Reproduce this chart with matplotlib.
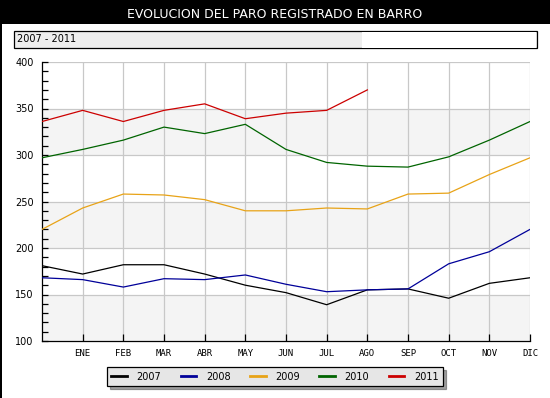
import matplotlib
matplotlib.use("Agg")
import matplotlib.pyplot as plt
from matplotlib.patches import Rectangle
from matplotlib.lines import Line2D

months = ["ENE", "FEB", "MAR", "ABR", "MAY", "JUN", "JUL", "AGO", "SEP", "OCT", "NOV", "DIC"]
years = ["2007", "2008", "2009", "2010", "2011"]

# first value is the left edge point (before ENE)
paro_2007 = [181, 172, 182, 182, 172, 160, 152, 139, 155, 156, 146, 162, 168]
paro_2008 = [168, 166, 158, 167, 166, 171, 161, 153, 155, 156, 183, 196, 220]
paro_2009 = [220, 243, 258, 257, 252, 240, 240, 243, 242, 258, 259, 279, 297]
paro_2010 = [297, 306, 316, 330, 323, 333, 306, 292, 288, 287, 298, 316, 336]
paro_2011 = [336, 348, 336, 348, 355, 339, 345, 348, 370]

series = [paro_2007, paro_2008, paro_2009, paro_2010, paro_2011]
colors = ["#000000", "#000099", "#e8a317", "#006400", "#cc0000"]

W, H = 550, 398
fig = plt.figure(figsize=(W / 100, H / 100), dpi=100)
fig.patch.set_facecolor("white")

def px(x, y, w, h):
    return [x / W, 1 - (y + h) / H, w / W, h / H]

# title bar
fig.patches.append(Rectangle((0, 1 - 24 / H), 1, 24 / H, transform=fig.transFigure,
                             facecolor="black", edgecolor="none"))
fig.text(275 / W, 1 - 14 / H, "EVOLUCION DEL PARO REGISTRADO EN BARRO", color="white",
         ha="center", va="center", fontsize=9)
# left border line
fig.patches.append(Rectangle((0, 0), 2 / W, 1, transform=fig.transFigure,
                             facecolor="black", edgecolor="none"))

# subtitle box
fig.patches.append(Rectangle((14 / W, 1 - 48 / H), 523 / W, 17 / H, transform=fig.transFigure,
                             facecolor="#eeeeee", edgecolor="black", linewidth=0.9))
fig.patches.append(Rectangle((362 / W, 1 - 47.5 / H), 174 / W, 16 / H, transform=fig.transFigure,
                             facecolor="white", edgecolor="none"))
fig.text(17 / W, 1 - 39.5 / H, "2007 - 2011", color="black", ha="left", va="center", fontsize=7)

ax = fig.add_axes(px(42, 62, 488, 279))
ax.set_facecolor("white")

# alternating bands
for lo in range(100, 400, 100):
    ax.axhspan(lo, lo + 50, color="#f4f4f4", zorder=0, lw=0)

x = list(range(13))
for s, c in zip(series, colors):
    ax.plot(x[:len(s)], s, color=c, linewidth=0.9, zorder=3)

ax.set_xlim(0, 12)
ax.set_ylim(100, 400)
ax.set_xticks(range(1, 13))
ax.set_xticklabels(months, fontsize=6.5, family="DejaVu Sans Mono")
ax.set_yticks(range(100, 401, 50))
ax.set_yticks(range(100, 401, 10), minor=True)
ax.tick_params(axis="y", labelsize=7, direction="in", length=4, width=0.9, pad=6)
ax.tick_params(axis="y", which="minor", direction="in", length=4, width=0.9)
ax.tick_params(axis="x", direction="in", length=5, width=0.9, pad=6)

for v in range(150, 401, 50):
    ax.axhline(v, color="#c8c8c8", linewidth=0.9, zorder=1)
for v in range(1, 13):
    ax.axvline(v, color="#c8c8c8", linewidth=0.9, zorder=1)

ax.spines["top"].set_visible(False)
ax.spines["right"].set_visible(False)
ax.spines["left"].set_linewidth(0.9)
ax.spines["bottom"].set_linewidth(0.9)

# legend
handles = [Line2D([], [], color=c, linewidth=2) for c in colors]
leg = fig.legend(handles, years, loc="center", bbox_to_anchor=(275 / W, 1 - 376.5 / H),
                 ncol=5, frameon=True, fancybox=False, shadow=True,
                 handlelength=1.6, handletextpad=1.0, columnspacing=2.0,
                 borderpad=0.45, prop={"family": "DejaVu Sans", "size": 7})
leg.get_frame().set_facecolor("#e6e6e6")
leg.get_frame().set_edgecolor("black")
leg.get_frame().set_linewidth(0.9)
leg.get_frame().set_alpha(1)

fig.savefig("out.png", dpi=100)
